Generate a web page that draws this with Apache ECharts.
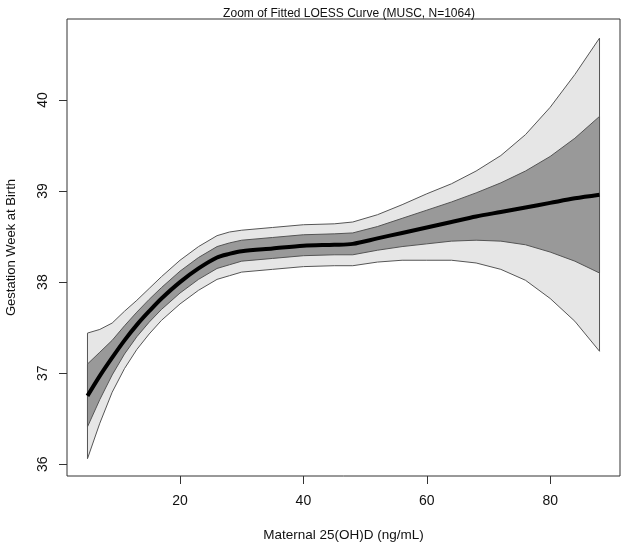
<!DOCTYPE html>
<html>
<head>
<meta charset="utf-8">
<script src="https://cdn.jsdelivr.net/npm/echarts@6/dist/echarts.min.js"></script>
<style>
  html, body { margin: 0; padding: 0; background: #fff; }
  #chart { width: 625px; height: 547px; }
</style>
</head>
<body>
<div id="chart"></div>
<script>
// maternal 25(OH)D, ng/mL
const vitD = [5, 7, 9, 11, 13, 15, 17, 20, 23, 26, 28, 30, 35, 40, 45, 48, 52, 56, 60, 64, 68, 72, 76, 80, 84, 88]
// fitted loess curve
const fitWeek = [36.75, 36.97, 37.17, 37.36, 37.53, 37.68, 37.82, 38.00, 38.15, 38.27, 38.31, 38.34, 38.37, 38.40, 38.41, 38.42, 38.48, 38.54, 38.60, 38.66, 38.72, 38.77, 38.82, 38.87, 38.92, 38.96]
// outer (light) band
const upper2 = [37.44, 37.48, 37.55, 37.68, 37.80, 37.93, 38.06, 38.24, 38.39, 38.51, 38.55, 38.57, 38.60, 38.63, 38.64, 38.66, 38.74, 38.85, 38.97, 39.08, 39.22, 39.39, 39.62, 39.92, 40.28, 40.68]
const lower2 = [36.06, 36.45, 36.79, 37.05, 37.26, 37.43, 37.58, 37.76, 37.91, 38.03, 38.07, 38.11, 38.14, 38.17, 38.18, 38.18, 38.22, 38.24, 38.24, 38.24, 38.21, 38.14, 38.02, 37.82, 37.57, 37.24]
// inner (dark) band
const upper1 = [37.10, 37.23, 37.36, 37.52, 37.67, 37.81, 37.94, 38.12, 38.27, 38.39, 38.43, 38.46, 38.49, 38.52, 38.53, 38.54, 38.61, 38.70, 38.79, 38.88, 38.98, 39.09, 39.22, 39.38, 39.58, 39.82]
const lower1 = [36.41, 36.71, 36.98, 37.21, 37.40, 37.56, 37.70, 37.88, 38.03, 38.15, 38.19, 38.23, 38.26, 38.29, 38.30, 38.30, 38.35, 38.39, 38.42, 38.45, 38.46, 38.45, 38.41, 38.33, 38.23, 38.10]

const xTicks = [20, 40, 60, 80]
const yTicks = [36, 37, 38, 39, 40]

const font = 'Liberation Sans, Arial, sans-serif'

function band (upper, lower, color) {
  return {
    type: 'custom',
    coordinateSystem: 'cartesian2d',
    silent: true,
    data: [[vitD[0], upper[0]]],
    renderItem (params, api) {
      const pts = []
      vitD.forEach((x, i) => pts.push(api.coord([x, upper[i]])))
      for (let i = vitD.length - 1; i >= 0; i--) pts.push(api.coord([vitD[i], lower[i]]))
      return {
        type: 'polygon',
        shape: { points: pts },
        style: { fill: color, stroke: '#555', lineWidth: 1 }
      }
    }
  }
}

const chart = echarts.init(document.getElementById('chart'))
chart.setOption({
  animation: false,
  title: {
    text: 'Zoom of Fitted LOESS Curve (MUSC, N=1064)',
    left: 344,
    textAlign: 'center',
    top: 3,
    textStyle: { fontFamily: font, fontSize: 12, fontWeight: 'normal', color: '#111' }
  },
  grid: {
    left: 67,
    right: 5,
    top: 19,
    bottom: 71,
    outerBoundsMode: 'none',
    containLabel: false,
    show: true,
    borderColor: '#333',
    borderWidth: 1
  },
  xAxis: {
    type: 'value',
    min: 1.68,
    max: 91.32,
    name: 'Maternal 25(OH)D (ng/mL)',
    nameLocation: 'middle',
    nameGap: 52,
    nameTextStyle: { fontFamily: font, fontSize: 13.5, color: '#111' },
    axisLine: { show: false },
    splitLine: { show: false },
    axisTick: { show: true, inside: false, length: 8, customValues: xTicks, lineStyle: { color: '#333' } },
    axisLabel: { customValues: xTicks, margin: 18, fontFamily: font, fontSize: 14, color: '#111' }
  },
  yAxis: {
    type: 'value',
    min: 35.87,
    max: 40.89,
    name: 'Gestation Week at Birth',
    nameLocation: 'middle',
    nameGap: 49,
    nameTextStyle: { fontFamily: font, fontSize: 13, color: '#111' },
    axisLine: { show: false },
    splitLine: { show: false },
    axisTick: { show: true, inside: false, length: 8, customValues: yTicks, lineStyle: { color: '#333' } },
    axisLabel: { customValues: yTicks, rotate: 90, margin: 17, fontFamily: font, fontSize: 14, color: '#111' }
  },
  series: [
    band(upper2, lower2, '#e6e6e6'),
    band(upper1, lower1, '#999999'),
    {
      type: 'line',
      data: vitD.map((x, i) => [x, fitWeek[i]]),
      showSymbol: false,
      smooth: 0.3,
      lineStyle: { color: '#000', width: 4 },
      z: 5
    }
  ]
})
</script>
</body>
</html>
